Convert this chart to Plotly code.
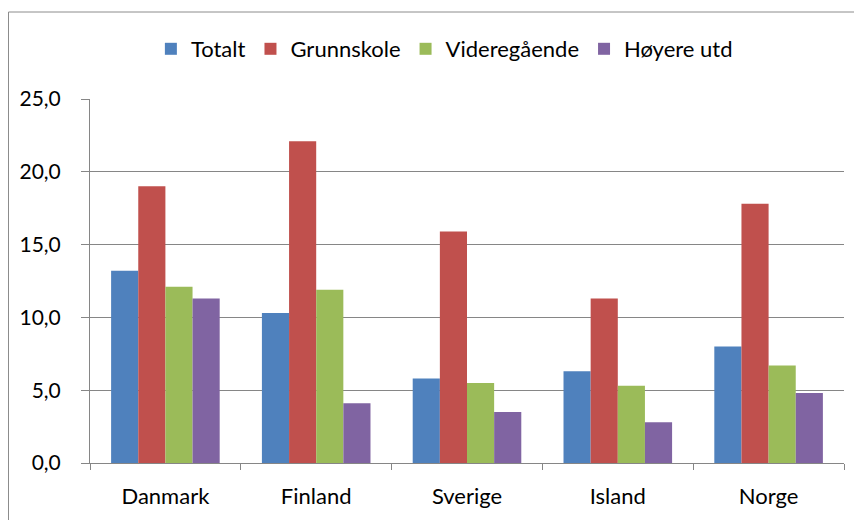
import plotly.graph_objects as go

countries = ["Danmark", "Finland", "Sverige", "Island", "Norge"]
totalt = [13.2, 10.3, 5.8, 6.3, 8.0]
grunnskole = [19.0, 22.1, 15.9, 11.3, 17.8]
videregaende = [12.1, 11.9, 5.5, 5.3, 6.7]
hoyere = [11.3, 4.1, 3.5, 2.8, 4.8]

series = [
    ("Totalt", totalt, "#4F81BD"),
    ("Grunnskole", grunnskole, "#C0504D"),
    ("Videregående", videregaende, "#9BBB59"),
    ("Høyere utd", hoyere, "#8064A2"),
]

fig = go.Figure()
for name, vals, col in series:
    fig.add_trace(go.Bar(x=countries, y=vals, name=name, marker_color=col,
                         marker_line_width=0))

font = "Lato, 'Open Sans', sans-serif"
# page body adds an 8px offset; margins compensate
ML, MR, MT, MB = 82, 26, 91, 65
PW, PH = 862 - ML - MR, 520 - MT - MB
fig.update_layout(
    width=862, height=520,
    paper_bgcolor="white", plot_bgcolor="white",
    margin=dict(l=ML, r=MR, t=MT, b=MB, autoexpand=False),
    barmode="group", bargap=0.28, bargroupgap=0,
    separators=", ",
    font=dict(family=font, size=22, color="black"),
    legend=dict(orientation="h", x=0.47, xanchor="center", xref="paper",
                y=1 + (MT - 41) / PH, yanchor="middle", font=dict(size=22),
                itemwidth=30, traceorder="normal"),
    showlegend=True,
)
fig.update_yaxes(range=[0, 25], dtick=5, tickformat=".1f",
                 tickfont=dict(size=21),
                 showgrid=True, gridcolor="#868686", gridwidth=1,
                 showline=True, linecolor="#868686", linewidth=1,
                 ticks="outside", ticklen=8, tickcolor="#868686",
                 ticklabelstandoff=16, zeroline=False, fixedrange=True,
                 automargin=False)
fig.update_xaxes(showline=True, linecolor="#868686", linewidth=1,
                 ticks="outside", ticklen=6, tickcolor="#868686",
                 tickson="boundaries", ticklabelstandoff=14, fixedrange=True,
                 automargin=False)
fig.add_shape(type="rect", xref="paper", yref="paper",
              x0=(0.5 - ML) / PW, x1=1.1, y0=-0.3, y1=1 + (MT - 4) / PH,
              line=dict(color="#8C8C8C", width=1), fillcolor="rgba(0,0,0,0)",
              layer="below")
fig.write_html("out.html")
